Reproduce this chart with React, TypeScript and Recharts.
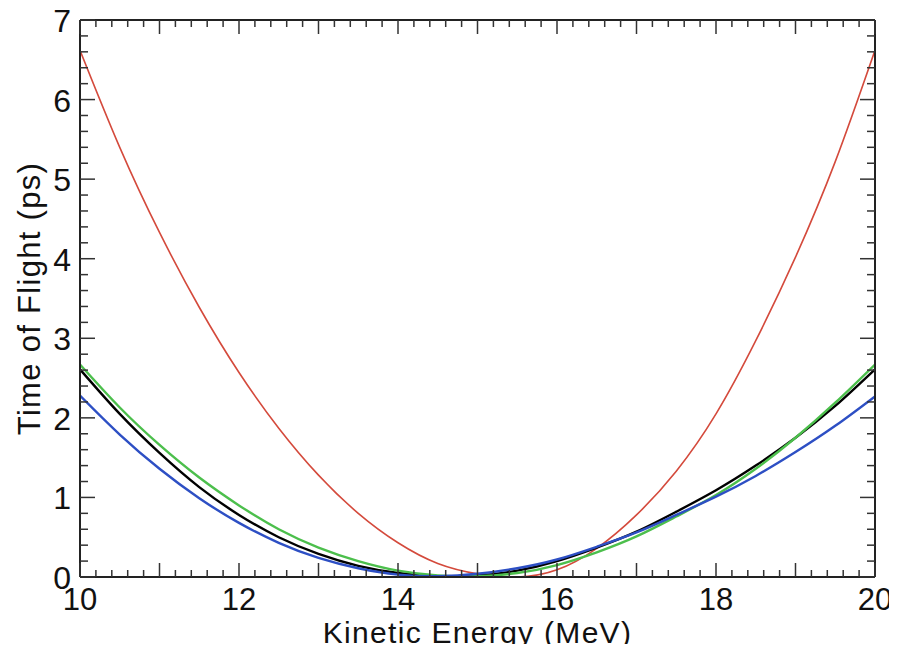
import React from 'react';
import { LineChart, Line, XAxis, YAxis, Label } from 'recharts';

const energy = [10, 10.5, 11, 11.5, 12, 12.5, 13, 13.5, 14, 14.5, 15, 15.5, 16, 16.5, 17, 17.5, 18, 18.5, 19, 19.5, 20];
const redTof = [6.62, 5.4, 4.33, 3.39, 2.57, 1.87, 1.28, 0.8, 0.43, 0.17, 0.04, 0.0, 0.09, 0.36, 0.78, 1.33, 2.05, 2.97, 4.02, 5.22, 6.62];
const blackTof = [2.61, 2.05, 1.56, 1.13, 0.78, 0.5, 0.29, 0.14, 0.05, 0.01, 0.02, 0.08, 0.2, 0.37, 0.57, 0.82, 1.09, 1.4, 1.75, 2.15, 2.61];
const greenTof = [2.67, 2.13, 1.66, 1.25, 0.9, 0.6, 0.37, 0.2, 0.08, 0.02, 0.01, 0.05, 0.15, 0.31, 0.51, 0.76, 1.03, 1.36, 1.75, 2.19, 2.67];
const blueTof = [2.28, 1.79, 1.36, 0.99, 0.68, 0.43, 0.24, 0.11, 0.03, 0.01, 0.04, 0.11, 0.22, 0.38, 0.56, 0.78, 1.01, 1.27, 1.57, 1.9, 2.27];

const xTicks = [10, 10.2, 10.4, 10.6, 10.8, 11, 11.2, 11.4, 11.6, 11.8, 12, 12.2, 12.4, 12.6, 12.8, 13, 13.2, 13.4, 13.6, 13.8, 14, 14.2, 14.4, 14.6, 14.8, 15, 15.2, 15.4, 15.6, 15.8, 16, 16.2, 16.4, 16.6, 16.8, 17, 17.2, 17.4, 17.6, 17.8, 18, 18.2, 18.4, 18.6, 18.8, 19, 19.2, 19.4, 19.6, 19.8, 20];
const xLabelTicks = [10, 12, 14, 16, 18, 20];
const yTicks = [0, 0.2, 0.4, 0.6, 0.8, 1, 1.2, 1.4, 1.6, 1.8, 2, 2.2, 2.4, 2.6, 2.8, 3, 3.2, 3.4, 3.6, 3.8, 4, 4.2, 4.4, 4.6, 4.8, 5, 5.2, 5.4, 5.6, 5.8, 6, 6.2, 6.4, 6.6, 6.8, 7];
const yLabelTicks = [0, 1, 2, 3, 4, 5, 6, 7];

const data = energy.map((e, i) => ({
  e,
  red: redTof[i],
  black: blackTof[i],
  green: greenTof[i],
  blue: blueTof[i],
}));

const W = 897;
const H = 652;
const PL = 80;
const PT = 20;
const PR = 875;
const PB = 577;
const FONT = '"Liberation Sans", Arial, Helvetica, sans-serif';
const TICK_COLOR = '#333';

const isInt = (v: number) => Math.abs(v - Math.round(v)) < 1e-6;
const hasLabel = (v: number, list: number[]) => list.some((t) => Math.abs(t - v) < 1e-6);

const BottomTick = (props: any) => {
  const { payload } = props;
  const x = payload.coordinate;
  const v = payload.value;
  const len = isInt(v) ? 14 : 7;
  return (
    <g>
      <line x1={x} y1={PB} x2={x} y2={PB - len} stroke={TICK_COLOR} strokeWidth={1.5} />
      {hasLabel(v, xLabelTicks) && (
        <text x={x} y={PB + 33} textAnchor="middle" fontSize={31} fontFamily={FONT} fill="#111">
          {String(Math.round(v))}
        </text>
      )}
    </g>
  );
};

const TopTick = (props: any) => {
  const { payload } = props;
  const x = payload.coordinate;
  const v = payload.value;
  const len = isInt(v) ? 14 : 7;
  return <line x1={x} y1={PT} x2={x} y2={PT + len} stroke={TICK_COLOR} strokeWidth={1.5} />;
};

const LeftTick = (props: any) => {
  const { payload } = props;
  const y = payload.coordinate;
  const v = payload.value;
  const len = isInt(v) ? 15 : 8;
  return (
    <g>
      <line x1={PL} y1={y} x2={PL + len} y2={y} stroke={TICK_COLOR} strokeWidth={1.5} />
      {hasLabel(v, yLabelTicks) && (
        <text x={PL - 9} y={y + 12} textAnchor="end" fontSize={32} fontFamily={FONT} fill="#111">
          {String(Math.round(v))}
        </text>
      )}
    </g>
  );
};

const RightTick = (props: any) => {
  const { payload } = props;
  const y = payload.coordinate;
  const v = payload.value;
  const len = isInt(v) ? 15 : 8;
  return <line x1={PR} y1={y} x2={PR - len} y2={y} stroke={TICK_COLOR} strokeWidth={1.5} />;
};

export default function App() {
  return (
    <div style={{ width: W, height: H, margin: -8, background: '#fff' }}>
      <LineChart
        width={W}
        height={H}
        data={data}
        margin={{ top: PT - 1, right: W - PR - 1, bottom: 0, left: 0 }}
      >
        <XAxis
          dataKey="e"
          type="number"
          domain={[10, 20]}
          allowDataOverflow
          ticks={xTicks}
          interval={0}
          tick={<BottomTick />}
          tickLine={false}
          tickSize={0}
          tickMargin={0}
          height={H - PB}
          axisLine={{ stroke: '#222', strokeWidth: 2 }}
          label={
            <Label
              content={() => (
                <text
                  x={(PL + PR) / 2}
                  y={PB + 66}
                  textAnchor="middle"
                  fontSize={30}
                  letterSpacing={1.3}
                  fontFamily={FONT}
                  fill="#111"
                >
                  Kinetic Energy (MeV)
                </text>
              )}
            />
          }
        />
        <XAxis
          xAxisId="top"
          orientation="top"
          dataKey="e"
          type="number"
          domain={[10, 20]}
          allowDataOverflow
          ticks={xTicks}
          interval={0}
          tick={<TopTick />}
          tickLine={false}
          tickSize={0}
          tickMargin={0}
          height={1}
          axisLine={{ stroke: '#222', strokeWidth: 2 }}
        />
        <YAxis
          type="number"
          domain={[0, 7]}
          allowDataOverflow
          ticks={yTicks}
          interval={0}
          tick={<LeftTick />}
          tickLine={false}
          tickSize={0}
          tickMargin={0}
          width={PL}
          axisLine={{ stroke: '#222', strokeWidth: 2 }}
          label={
            <Label
              content={() => (
                <text
                  x={40}
                  y={(PT + PB) / 2}
                  transform={`rotate(-90 40 ${(PT + PB) / 2})`}
                  textAnchor="middle"
                  fontSize={31}
                  letterSpacing={1.3}
                  fontFamily={FONT}
                  fill="#111"
                >
                  Time of Flight (ps)
                </text>
              )}
            />
          }
        />
        <YAxis
          yAxisId="right"
          orientation="right"
          type="number"
          domain={[0, 7]}
          allowDataOverflow
          ticks={yTicks}
          interval={0}
          tick={<RightTick />}
          tickLine={false}
          tickSize={0}
          tickMargin={0}
          width={1}
          axisLine={{ stroke: '#222', strokeWidth: 2 }}
        />
        <Line type="natural" dataKey="red" stroke="#d44a3c" strokeWidth={1.6} dot={false} isAnimationActive={false} />
        <Line type="natural" dataKey="black" stroke="#000000" strokeWidth={2.4} dot={false} isAnimationActive={false} />
        <Line type="natural" dataKey="green" stroke="#4cbf4c" strokeWidth={2.4} dot={false} isAnimationActive={false} />
        <Line type="natural" dataKey="blue" stroke="#2d4fc4" strokeWidth={2.4} dot={false} isAnimationActive={false} />
      </LineChart>
    </div>
  );
}
